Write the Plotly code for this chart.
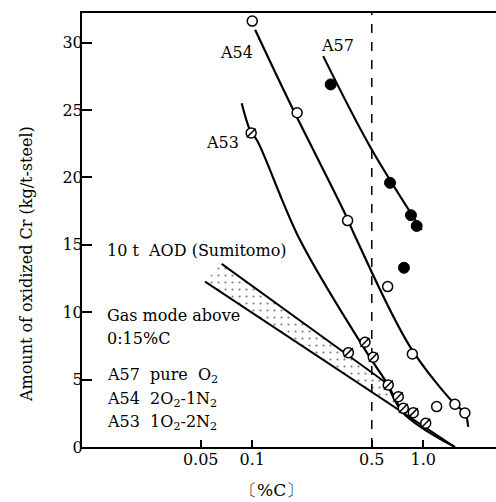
import plotly.graph_objects as go

# ---- data ----
# measured points
a57_c = [0.2875, 0.639, 0.847, 0.915, 0.771]
a57_cr = [26.9, 19.6, 17.2, 16.4, 13.3]
a54_c = [0.100, 0.183, 0.361, 0.619, 0.863, 1.197, 1.53, 1.75]
a54_cr = [31.6, 24.8, 16.8, 11.9, 6.9, 3.0, 3.17, 2.52]
a53_c = [0.0986, 0.365, 0.456, 0.510, 0.624, 0.714, 0.764, 0.874, 1.033]
a53_cr = [23.3, 7.0, 7.77, 6.66, 4.6, 3.73, 2.87, 2.55, 1.76]

# fitted curves
a57_fit_c = [0.260, 0.488, 0.979]
a57_fit_cr = [29.0, 22.3, 16.1]
a54_fit_c = [0.104, 0.170, 0.344, 0.408, 0.836, 1.53, 1.75, 1.83]
a54_fit_cr = [30.96, 25.26, 17.47, 15.37, 7.45, 3.17, 2.52, 1.5]
a53_fit_c = [0.0868, 0.0986, 0.1062, 0.190, 0.477, 0.597, 0.761, 1.53]
a53_fit_cr = [25.5, 23.3, 22.8, 15.37, 6.83, 4.97, 2.55, 0.0]

# 10 t AOD (Sumitomo) band
band_up_c = [0.0663, 0.62, 0.75]
band_up_cr = [13.59, 4.67, 2.62]
band_lo_c = [0.053, 1.53]
band_lo_cr = [12.27, 0.0]

xtick_vals = [0.05, 0.1, 0.5, 1.0]
xtick_text = ["0.05", "0.1", "0.5", "1.0"]
ytick_vals = [0, 5, 10, 15, 20, 25, 30]

FONT = "DejaVu Serif"
W, H = 496, 502
ML, MR, MT, MB = 82, 0, 13, 55
PW, PH = W - ML - MR, H - MT - MB


def px(xp):
    return (xp - ML) / PW


def py(yp):
    return (H - MB - yp) / PH


fig = go.Figure()

# band fill
fig.add_trace(go.Scatter(
    x=band_up_c + band_lo_c[::-1], y=band_up_cr + band_lo_cr[::-1],
    mode="lines", fill="toself", line=dict(width=0, color="rgba(0,0,0,0)"),
    fillcolor="white",
    fillpattern=dict(shape=".", size=7, solidity=0.08, fgcolor="black", bgcolor="white"),
    hoverinfo="skip", showlegend=False))
# band lines
fig.add_trace(go.Scatter(x=band_up_c, y=band_up_cr, mode="lines",
                         line=dict(color="black", width=2), showlegend=False))
fig.add_trace(go.Scatter(x=band_lo_c, y=band_lo_cr, mode="lines",
                         line=dict(color="black", width=2), showlegend=False))

# dashed line at 0.5 %C
fig.add_trace(go.Scatter(x=[0.5, 0.5], y=[0, 32.3], mode="lines",
                         line=dict(color="black", width=1.5, dash="dash"), showlegend=False))

# fitted curves
for cx, cy in [(a57_fit_c, a57_fit_cr), (a54_fit_c, a54_fit_cr), (a53_fit_c, a53_fit_cr)]:
    fig.add_trace(go.Scatter(x=cx, y=cy, mode="lines", line=dict(color="black", width=2.2),
                             line_shape="spline", showlegend=False))

# markers
fig.add_trace(go.Scatter(x=a54_c, y=a54_cr, mode="markers",
                         marker=dict(symbol="circle", size=10, color="white",
                                     line=dict(color="black", width=1.5)), showlegend=False))
fig.add_trace(go.Scatter(x=a53_c, y=a53_cr, mode="markers",
                         marker=dict(symbol="circle", size=10, color="white",
                                     line=dict(color="black", width=1.5)), showlegend=False))
fig.add_trace(go.Scatter(x=a53_c, y=a53_cr, mode="markers",
                         marker=dict(symbol="line-ne", size=9,
                                     line=dict(color="black", width=1.5)), showlegend=False))
fig.add_trace(go.Scatter(x=a57_c, y=a57_cr, mode="markers",
                         marker=dict(symbol="circle", size=11, color="black",
                                     line=dict(color="black", width=1)), showlegend=False))

ann = []


def text(x, y, s, anchor="left", size=16, angle=0):
    ann.append(dict(x=px(x), y=py(y), xref="paper", yref="paper", text=s, showarrow=False,
                    xanchor=anchor, yanchor="middle", textangle=angle,
                    font=dict(family=FONT, size=size, color="black")))


text(337, 45, "A57", "center")
text(236, 52, "A54", "center")
text(222, 142, "A53", "center")
text(105, 250, "10 t  AOD (Sumitomo)")
text(105, 316, "Gas mode above")
text(105, 338, "0:15%C")
text(105, 375, "A57  pure  O<sub>2</sub>")
text(105, 399, "A54  2O<sub>2</sub>-1N<sub>2</sub>")
text(105, 422, "A53  1O<sub>2</sub>-2N<sub>2</sub>")
text(271, 490, "〔%C〕", "center", 17)
text(26, 264, "Amount of oxidized Cr (kg/t-steel)", "center", 16, -90)

fig.update_layout(
    width=W, height=H, margin=dict(l=ML, r=MR, t=MT, b=MB),
    paper_bgcolor="white", plot_bgcolor="white",
    annotations=ann,
    xaxis=dict(type="log", range=[-1.995, 0.425], showgrid=False, zeroline=False,
               showline=True, linecolor="black", linewidth=2, mirror=True,
               tickmode="array", tickvals=xtick_vals, ticktext=xtick_text,
               ticks="inside", ticklen=7, tickwidth=1.5, tickcolor="black",
               ticklabelstandoff=-3,
               tickfont=dict(family=FONT, size=16, color="black")),
    yaxis=dict(range=[0, 32.2], showgrid=False, zeroline=False,
               showline=True, linecolor="black", linewidth=2,
               tickmode="array", tickvals=ytick_vals,
               ticks="inside", ticklen=10, tickwidth=1.5, tickcolor="black",
               ticklabelstandoff=-6,
               tickfont=dict(family=FONT, size=16, color="black")),
)

fig.write_html("out.html")
